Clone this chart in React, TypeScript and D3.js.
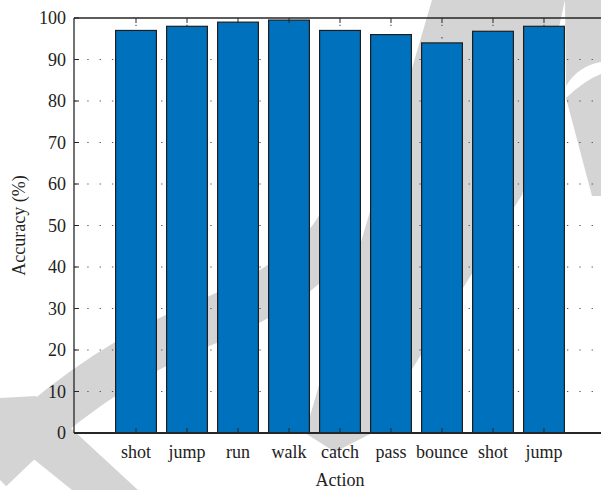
import React from "react";
import * as d3 from "d3";

// Recognition accuracy per action class
const actions = ["shot", "jump", "run", "walk", "catch", "pass", "bounce", "shot", "jump"];
const accuracy = [97, 98, 99, 99.5, 97, 96, 94, 96.8, 98];
const yTicks = [0, 10, 20, 30, 40, 50, 60, 70, 80, 90, 100];
const gridLevels = [10, 20, 30, 40, 50, 60, 70, 80, 90];

const W = 601;
const H = 490;
const margin = { left: 74, top: 18, right: 606, bottom: 433 };
const FONT = "'Liberation Serif', serif";
const FS = 18;
const BAR_FILL = "#0072BD";
const AXIS = "#262626";
const WM = "#d4d4d4";

// Faint background ribbon shapes
const ribbon = [
  "M0,398 L36,396 L138,490 L72,490 L0,432 Z",
  "M432,0 L565,0 L522,195 L468,280 L372,433 L335,452 L305,433 Z",
  "M565,0 L601,0 L601,62 Q578,66 566,86 Z",
  "M566,98 Q585,80 601,74 L601,196 L592,196 Z",
];
const ribbonArc = "M-10,470 Q90,370 200,325 T340,225";

const textStyle: React.CSSProperties = { fontFamily: FONT };

export default function App() {
  const x = d3.scaleLinear().domain([-0.216, 10.216]).range([margin.left, margin.right]);
  const y = d3.scaleLinear().domain([0, 100]).range([margin.bottom, margin.top]);
  const barW = x(0.8) - x(0);
  const positions = actions.map((_, i) => i + 1);

  return (
    <svg
      width={W}
      height={H}
      style={{ position: "absolute", left: 0, top: 0, background: "#fff", fontFamily: FONT }}
    >
      <g>
        {ribbon.map((d, i) => (
          <path key={i} d={d} fill={WM} />
        ))}
        <path d={ribbonArc} fill="none" stroke={WM} strokeWidth={46} />
      </g>

      {/* dotted grid */}
      <g stroke="#555" strokeWidth={1.2} strokeDasharray="1.3 11" strokeDashoffset={-1}>
        {gridLevels.map((v) => (
          <line key={"h" + v} x1={margin.left} x2={margin.right} y1={y(v)} y2={y(v)} />
        ))}
        {positions.map((p) => (
          <line key={"v" + p} x1={x(p)} x2={x(p)} y1={margin.bottom} y2={margin.top} />
        ))}
      </g>

      {/* bars */}
      <g>
        {accuracy.map((v, i) => (
          <rect
            key={i}
            x={x(positions[i]) - barW / 2}
            y={y(v)}
            width={barW}
            height={y(0) - y(v)}
            fill={BAR_FILL}
            stroke="#1e1e1e"
            strokeWidth={1.2}
          />
        ))}
      </g>

      {/* axes box and ticks */}
      <g stroke={AXIS} fill="none">
        <line x1={margin.left} x2={margin.right} y1={margin.bottom} y2={margin.bottom} strokeWidth={2} />
        <line x1={margin.left} x2={margin.right} y1={margin.top} y2={margin.top} strokeWidth={1.3} />
        <line x1={margin.left} x2={margin.left} y1={margin.top} y2={margin.bottom} strokeWidth={1.3} />
        {yTicks.map((v) => (
          <line key={"yt" + v} x1={margin.left} x2={margin.left + 5} y1={y(v)} y2={y(v)} strokeWidth={1} />
        ))}
        {positions.map((p) => (
          <g key={"xt" + p}>
            <line x1={x(p)} x2={x(p)} y1={margin.bottom} y2={margin.bottom - 5} strokeWidth={1} />
            <line x1={x(p)} x2={x(p)} y1={margin.top} y2={margin.top + 5} strokeWidth={1} />
          </g>
        ))}
      </g>

      {/* tick labels */}
      <g fill="#222" fontSize={FS}>
        {yTicks.map((v) => (
          <text key={"yl" + v} x={margin.left - 8} y={y(v)} dy="0.35em" textAnchor="end" style={textStyle}>
            {v}
          </text>
        ))}
        {actions.map((a, i) => (
          <text key={"xl" + i} x={x(positions[i])} y={458} textAnchor="middle" style={textStyle}>
            {a}
          </text>
        ))}
      </g>

      {/* axis titles */}
      <text
        x={(margin.left + margin.right) / 2}
        y={486}
        textAnchor="middle"
        fontSize={FS}
        fill="#222"
        style={textStyle}
      >
        Action
      </text>
      <text
        transform={`translate(25,${(margin.top + margin.bottom) / 2}) rotate(-90)`}
        textAnchor="middle"
        fontSize={FS}
        fill="#222"
        style={textStyle}
      >
        Accuracy (%)
      </text>
    </svg>
  );
}
